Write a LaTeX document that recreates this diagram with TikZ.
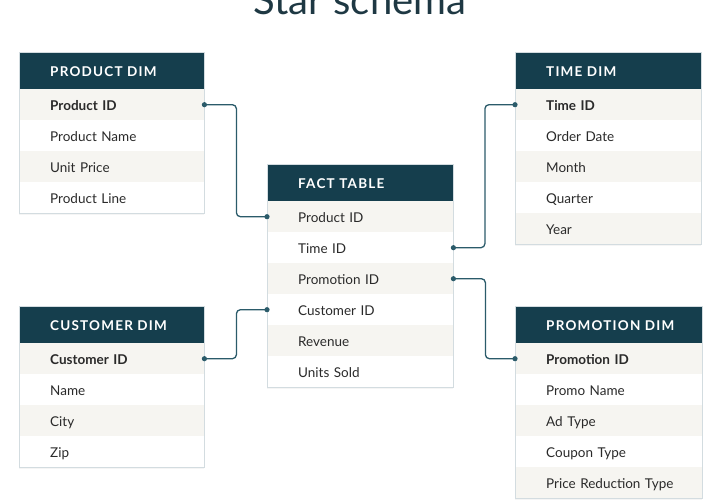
\documentclass[tikz,border=0pt]{standalone}
\usepackage{fontspec}
\setmainfont{Lato}
\newfontfamily\hdrfont[LetterSpace=9]{Lato}
\usetikzlibrary{shadows}
\definecolor{hdrc}{HTML}{153E4D}
\definecolor{rowg}{HTML}{F6F5F1}
\definecolor{connc}{HTML}{2B5B6A}
\definecolor{bord}{HTML}{D3DCE0}
\definecolor{txt}{HTML}{2A2A2A}
\definecolor{ttl}{HTML}{1E3843}
\tikzset{
  hdr/.style={anchor=north west, fill=hdrc, text=white,
    font=\hdrfont\bfseries\fontsize{13.5}{15}\selectfont,
    minimum height=37pt, inner sep=0pt, align=left,
    text height=12.2pt, text depth=0pt, execute at begin node=\hspace*{31pt}},
  rowst/.style={anchor=north west, text=txt,
    font=\fontsize{13.5}{15}\selectfont,
    minimum height=31pt, inner sep=0pt, align=left,
    text height=11.8pt, text depth=0pt, execute at begin node=\hspace*{31pt}},
  bordline/.style={draw=bord, line width=0.8pt},
  connline/.style={draw=connc, line width=1.3pt, rounded corners=4pt},
  dot/.style={fill=connc}
}
\newcommand\dbtable[7]{%
  \fill[white, drop shadow={opacity=0.08, shadow xshift=0pt, shadow yshift=-2pt}]
    (#2,#3) rectangle ++(#4,37+31*#5);
  \node[hdr, text width=#4pt] (#1h) at (#2,#3) {#6};
  \foreach \t [count=\i] in {#7} {%
    \ifodd\i\def\rf{rowg}\else\def\rf{white}\fi
    \node[rowst, fill=\rf, text width=#4pt] (#1\i) at (#2,#3+37+31*\i-31) {\t};
  }
  \draw[bordline] (#2,#3) rectangle ++(#4,37+31*#5);
}
\begin{document}
\begin{tikzpicture}[x=1pt,y=-1pt]
\useasboundingbox (0,0) rectangle (720,500);
\node[font=\fontsize{40}{42}\selectfont, text=ttl, anchor=base] (title) at (360,15) {Star schema};

\dbtable{pd}{19}{52}{185}{4}{PRODUCT DIM}{\textbf{Product ID}, Product Name, Unit Price, Product Line}
\dbtable{ft}{267}{164}{186}{6}{FACT TABLE}{Product ID, Time ID, Promotion ID, Customer ID, Revenue, Units Sold}
\dbtable{td}{515}{52}{186}{5}{TIME DIM}{\textbf{Time ID}, Order Date, Month, Quarter, Year}
\dbtable{cd}{19}{306}{185}{4}{CUSTOMER DIM}{\textbf{Customer ID}, Name, City, Zip}
\dbtable{pm}{515}{306}{187}{5}{PROMOTION DIM}{\textbf{Promotion ID}, Promo Name, Ad Type, Coupon Type, Price Reduction Type}

\draw[connline] (pd1.east) -- ++(32,0) |- (ft1.west);
\draw[connline] (ft2.east) -- ++(31.5,0) |- (td1.west);
\draw[connline] (ft3.east) -- ++(32,0) |- (pm1.west);
\draw[connline] (cd1.east) -- ++(32,0) |- (ft4.west);
\foreach \a in {pd1.east, ft1.west, ft2.east, td1.west, ft3.east, pm1.west, cd1.east, ft4.west}
  \fill[dot] (\a) circle (2.6pt);
\end{tikzpicture}
\end{document}
